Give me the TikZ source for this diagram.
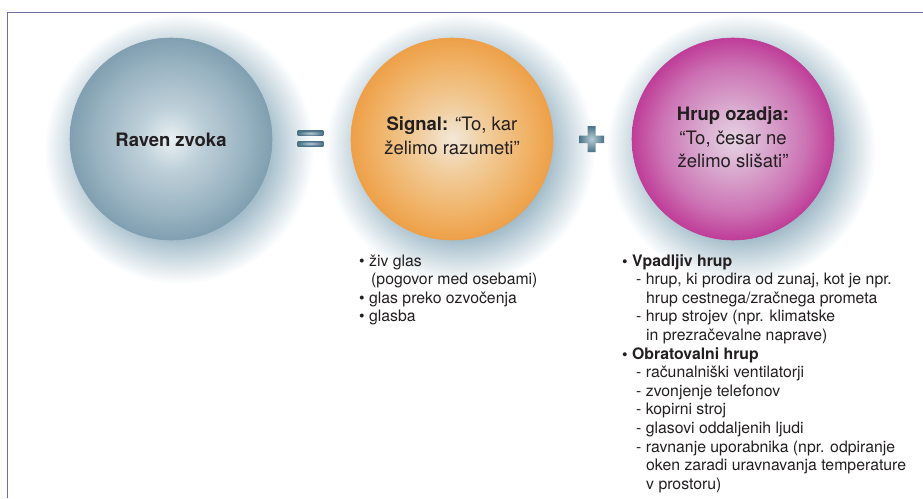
\documentclass[tikz,border=0pt]{standalone}
\usepackage{fontspec}
\setmainfont{TeX Gyre Heros}
\definecolor{txt}{HTML}{231F20}
\definecolor{framec}{HTML}{6E6EA0}
\definecolor{aIn}{HTML}{EAF0F3}
\definecolor{aMa}{HTML}{BDCFD8}
\definecolor{aMb}{HTML}{9BB5C3}
\definecolor{aOut}{HTML}{809FB0}
\definecolor{bIn}{HTML}{F2E8DA}
\definecolor{bMa}{HTML}{F1CE9E}
\definecolor{bMb}{HTML}{F0B46A}
\definecolor{bOut}{HTML}{EEA048}
\definecolor{cIn}{HTML}{E6D3E3}
\definecolor{cMa}{HTML}{D9AACF}
\definecolor{cMb}{HTML}{CC73B4}
\definecolor{cOut}{HTML}{BF3D98}
\definecolor{shc}{HTML}{9DB8C6}
\definecolor{barD}{HTML}{4A7388}
\definecolor{barL}{HTML}{B8CCD6}
\pgfdeclareradialshading{ballA}{\pgfpoint{0bp}{0bp}}{color(0bp)=(aIn); color(8bp)=(aMa); color(18bp)=(aMb); color(25bp)=(aOut); color(50bp)=(aOut)}
\pgfdeclareradialshading{ballB}{\pgfpoint{0bp}{0bp}}{color(0bp)=(bIn); color(8bp)=(bMa); color(18bp)=(bMb); color(25bp)=(bOut); color(50bp)=(bOut)}
\pgfdeclareradialshading{ballC}{\pgfpoint{0bp}{0bp}}{color(0bp)=(cIn); color(8bp)=(cMa); color(18bp)=(cMb); color(25bp)=(cOut); color(50bp)=(cOut)}
\pgfdeclareradialshading{shadowsh}{\pgfpoint{0bp}{0bp}}{color(0bp)=(shc); color(16bp)=(shc); color(25bp)=(white); color(50bp)=(white)}
\pgfdeclareradialshading{barsh}{\pgfpoint{0bp}{0bp}}{color(0bp)=(barL); color(25bp)=(barD); color(50bp)=(barD)}
\begin{document}
\begin{tikzpicture}[x=1pt,y=-1pt,
  ball/.style={circle, minimum size=202pt, inner sep=0pt, shade, line width=0.6pt},
  shadowdisc/.style={shading=shadowsh},
  barshape/.style={shading=barsh},
  ctext/.style={align=center, inner sep=0pt, text=txt, font=\fontsize{18.5}{23.5}\selectfont},
  lst/.style={anchor=base west, inner sep=0pt, text=txt, font=\fontsize{15.8}{18.6}\selectfont}]
\useasboundingbox (0,0) rectangle (923,498);
% frame
\coordinate (fa) at (7.5,498);
\coordinate (fb) at (7.5,12.7);
\coordinate (fc) at (923,12.7);
\draw[framec, line width=1.3pt] (fa) -- (fb) -- (fc);
% shadows
\shade[shadowdisc] (179,149) circle[radius=135];
\shade[shadowdisc] (460,149) circle[radius=135];
\shade[shadowdisc] (741,149) circle[radius=135];
% circles
\node[ball, shading=ballA, draw=aOut] (c1) at (171,139) {};
\node[ball, shading=ballB, draw=bOut] (c2) at (452,139) {};
\node[ball, shading=ballC, draw=cOut] (c3) at (733,139) {};
% texts in circles
\node[ctext] (t1) at (171,140) {\textbf{Raven zvoka}};
\node[ctext] (t2) at (452,135.5) {\textbf{Signal:} “To, kar\\želimo razumeti”};
\node[ctext] (t3) at (733,137.5) {\textbf{Hrup ozadja:}\\“To, česar ne\\želimo slišati”};
% equals sign
\shade[barshape] (297.7,130.7) rectangle (323.3,135.7);
\shade[barshape] (297.7,141) rectangle (323.3,146);
% plus sign
\shade[barshape] (579,135.5) -- (587.5,135.5) -- (587.5,126) -- (595.5,126) -- (595.5,135.5) -- (604,135.5) -- (604,143) -- (595.5,143) -- (595.5,152) -- (587.5,152) -- (587.5,143) -- (579,143) -- cycle;
% left list
\node[lst] (s1) at (359,266) {• živ glas};
\node[lst] (s2) at (371,284.6) {(pogovor med osebami)};
\node[lst] (s3) at (359,303.2) {• glas preko ozvočenja};
\node[lst] (s4) at (359,321.8) {• glasba};
% right list
\node[lst] (n1) at (622,266) {\textbf{• Vpadljiv hrup}};
\node[lst] (n2) at (636,284.6) {- hrup, ki prodira od zunaj, kot je npr.};
\node[lst] (n3) at (646,303.2) {hrup cestnega/zračnega prometa};
\node[lst] (n4) at (636,321.8) {- hrup strojev (npr. klimatske};
\node[lst] (n5) at (646,340.4) {in prezračevalne naprave)};
\node[lst] (n6) at (622,359) {\textbf{• Obratovalni hrup}};
\node[lst] (n7) at (636,377.6) {- računalniški ventilatorji};
\node[lst] (n8) at (636,396.2) {- zvonjenje telefonov};
\node[lst] (n9) at (636,414.8) {- kopirni stroj};
\node[lst] (n10) at (636,433.4) {- glasovi oddaljenih ljudi};
\node[lst] (n11) at (636,452) {- ravnanje uporabnika (npr. odpiranje};
\node[lst] (n12) at (646,470.6) {oken zaradi uravnavanja temperature};
\node[lst] (n13) at (646,489.2) {v prostoru)};
\end{tikzpicture}
\end{document}
